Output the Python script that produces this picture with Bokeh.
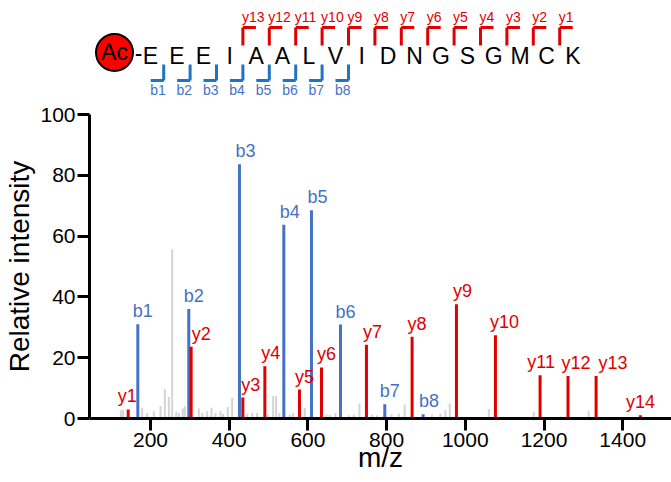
from bokeh.plotting import figure
from bokeh.layouts import column
from bokeh.models import Range1d, FixedTicker
from bokeh.core.properties import value
from bokeh.embed import file_html
from bokeh.resources import INLINE

# ---------------- data ----------------
sequence = list("EEEIAALVIDNGSGMCK")
n_term = "Ac"

b_names = ["b1", "b2", "b3", "b4", "b5", "b6", "b7", "b8"]
b_mz = [167.8, 297.3, 426.1, 538.8, 609.1, 682.8, 795.4, 892.8]
b_int = [31.0, 36.0, 83.6, 63.7, 68.5, 30.9, 4.7, 1.4]

y_names = ["y1", "y2", "y3", "y4", "y5", "y6", "y7", "y8", "y9", "y10",
           "y11", "y12", "y13", "y14"]
y_mz = [143.3, 303.3, 434.7, 490.6, 578.6, 634.5, 748.8, 864.8, 977.5,
        1076.6, 1190.0, 1261.0, 1332.4, 1445.0]
y_int = [3.0, 23.6, 6.9, 17.2, 9.5, 16.8, 24.3, 26.9, 37.6, 27.4, 14.2,
         14.0, 14.0, 1.1]

grey_mz = [124.6, 130.6, 178.9, 191.6, 208.5, 225.4, 236.5, 246.6, 255.1,
           265.3, 272.0, 282.0, 287.2, 322.7, 331.3, 344.0, 355.0, 365.2,
           378.0, 384.6, 396.5, 407.5, 445.7, 458.4, 471.1, 499.0, 511.7,
           519.3, 527.7, 554.0, 562.5, 592.0, 647.2, 655.6, 670.0, 703.9,
           716.6, 731.0, 763.2, 775.9, 812.3, 831.0, 846.0, 915.7, 936.8,
           949.5, 960.5, 1059.6, 1123.0, 1174.0, 1241.7, 1313.6, 1368.8]
grey_int = [2.7, 3.0, 3.5, 1.8, 2.4, 4.0, 9.6, 7.1, 55.7, 2.2, 1.8, 3.3,
            4.0, 3.3, 1.8, 2.4, 3.5, 1.8, 2.4, 1.5, 3.8, 6.8, 1.6, 1.8,
            1.8, 1.3, 7.4, 7.4, 1.8, 1.3, 1.8, 3.5, 1.3, 1.3, 1.8, 1.1,
            1.3, 4.9, 1.3, 1.1, 1.3, 1.6, 4.6, 1.3, 1.6, 2.7, 4.9, 3.1,
            0.6, 2.2, 0.7, 2.4, 0.6]

x_ticks = [200, 400, 600, 800, 1000, 1200, 1400]
y_ticks = [0, 20, 40, 60, 80, 100]

# label nudges (screen px) for peak labels
b_dx = [5, 5, 6, 6, 6, 5, 5, 6]
y_dx = [-1, 10, 8, 6, 5, 5, 6, 5, 6, 9, 1, 8, 17, 0]

# ---------------- style ----------------
FONT = value("Liberation Sans")
RED = "#E00000"
BLUE = "#4472C4"
BRACKET_BLUE = "#1F74C4"
GREY = "#D4D4D4"
W = 671
LEFT = 89       # frame left (shared by both figures in the column)

# ---------------- header (peptide) ----------------
STEP = 26.4     # px per residue
X0 = 150.0      # px of residue 1
HEAD_H = 104
top = figure(width=W, height=HEAD_H, x_axis_type=None, y_axis_type=None,
             toolbar_location=None, output_backend="svg",
             min_border_left=LEFT, min_border_right=0, min_border_top=0,
             min_border_bottom=0, outline_line_color=None,
             x_range=Range1d(1 - (X0 - LEFT) / STEP, 1 + (W - X0) / STEP),
             y_range=Range1d(HEAD_H, 0))
top.grid.visible = False

idx = list(range(1, len(sequence) + 1))
top.text(x=idx, y=[55] * len(idx), text=sequence, text_font=FONT,
         text_font_size="23px", text_align="center",
         text_baseline="middle", text_color="black")

ac_x = 1 - 36 / STEP
top.scatter(x=[ac_x], y=[52], size=37, fill_color="#FF0000",
            line_color="black", line_width=2)
top.text(x=[ac_x], y=[51], text=[n_term], text_font=FONT,
         text_font_size="23px", text_align="center",
         text_baseline="middle", text_color="black")
top.text(x=[1 - 12 / STEP], y=[52], text=["-"], text_font=FONT,
         text_font_size="23px", text_align="center",
         text_baseline="middle", text_color="black")

ARM = 13 / STEP
n_y = 13
yb = [len(sequence) + 0.5 - n for n in range(1, n_y + 1)]
top.segment(x0=yb, y0=[27] * n_y, x1=yb, y1=[45] * n_y,
            line_color=RED, line_width=3)
top.segment(x0=yb, y0=[27] * n_y, x1=[v + ARM for v in yb], y1=[27] * n_y,
            line_color=RED, line_width=3)
top.text(x=yb, y=[16.5] * n_y, text=[f"y{n}" for n in range(1, n_y + 1)],
         x_offset=-1, text_font=FONT, text_font_size="14px",
         text_align="left", text_baseline="middle", text_color=RED)

n_b = 8
bb = [n + 0.5 for n in range(1, n_b + 1)]
top.segment(x0=bb, y0=[64] * n_b, x1=bb, y1=[80] * n_b,
            line_color=BRACKET_BLUE, line_width=3)
top.segment(x0=[v - ARM for v in bb], y0=[80] * n_b, x1=bb, y1=[80] * n_b,
            line_color=BRACKET_BLUE, line_width=3)
top.text(x=bb, y=[89.5] * n_b, text=[f"b{n}" for n in range(1, n_b + 1)],
         x_offset=2, text_font=FONT, text_font_size="14px",
         text_align="right", text_baseline="middle", text_color=BLUE)

# ---------------- spectrum ----------------
p = figure(width=W, height=482 - HEAD_H, toolbar_location=None,
           output_backend="svg",
           x_range=Range1d(45, 1524), y_range=Range1d(0, 100),
           min_border_left=LEFT, min_border_right=0,
           min_border_top=114 - HEAD_H,
           min_border_bottom=64, outline_line_color=None)
p.grid.visible = False

p.segment(x0=grey_mz, y0=[0] * len(grey_mz), x1=grey_mz, y1=grey_int,
          line_color=GREY, line_width=2)
p.segment(x0=b_mz, y0=[0] * len(b_mz), x1=b_mz, y1=b_int,
          line_color=BLUE, line_width=3)
p.segment(x0=y_mz, y0=[0] * len(y_mz), x1=y_mz, y1=y_int,
          line_color=RED, line_width=3)

p.text(x=b_mz, y=b_int, text=b_names, x_offset=b_dx, y_offset=-13,
       text_font=FONT, text_font_size="18px", text_align="center",
       text_baseline="middle", text_color=BLUE)
p.text(x=y_mz, y=y_int, text=y_names, x_offset=y_dx, y_offset=-13,
       text_font=FONT, text_font_size="18px", text_align="center",
       text_baseline="middle", text_color=RED)

p.xaxis.ticker = FixedTicker(ticks=x_ticks)
p.yaxis.ticker = FixedTicker(ticks=y_ticks)
p.xaxis.axis_label = "m/z"
p.yaxis.axis_label = "Relative intensity"
for ax in (p.xaxis, p.yaxis):
    ax.axis_line_width = 3
    ax.axis_line_color = "black"
    ax.major_tick_line_width = 3
    ax.major_tick_line_color = "black"
    ax.major_tick_out = 12
    ax.major_tick_in = 0
    ax.minor_tick_line_color = None
    ax.major_label_text_font = "Liberation Sans"
    ax.major_label_text_font_size = "21px"
    ax.major_label_text_color = "black"
    ax.axis_label_text_font = "Liberation Sans"
    ax.axis_label_text_font_size = "28px"
    ax.axis_label_text_font_style = "normal"
    ax.axis_label_text_color = "black"
    ax.major_label_standoff = 2
p.xaxis.axis_label_standoff = -8
p.yaxis.axis_label_standoff = 2

layout = column(top, p)
open("out.html", "w").write(file_html(layout, INLINE))
